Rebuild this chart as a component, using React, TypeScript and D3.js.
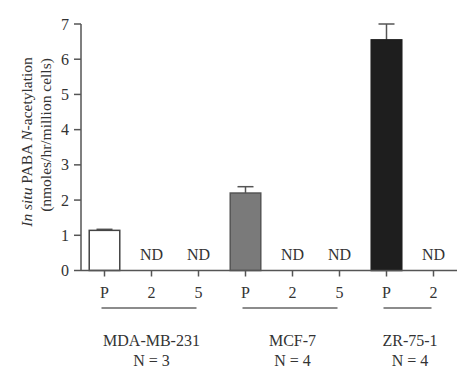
import React from "react";
import * as d3 from "d3";

const categories = ["P1", "21", "51", "P2", "22", "52", "P3", "23"];
const tickLabels = ["P", "2", "5", "P", "2", "5", "P", "2"];
const values: (number | null)[] = [1.14, null, null, 2.2, null, null, 6.55, null];
const errors: (number | null)[] = [0.03, null, null, 0.18, null, null, 0.45, null];
const barColors = ["#ffffff", "", "", "#7a7a7a", "", "", "#1e1e1e", ""];
const barStrokes = ["#444", "", "", "#555", "", "", "#1e1e1e", ""];
const groups = [
  { name: "MDA-MB-231", n: "N = 3", first: "P1", last: "51" },
  { name: "MCF-7", n: "N = 4", first: "P2", last: "52" },
  { name: "ZR-75-1", n: "N = 4", first: "P3", last: "23" },
];
const yTicks = [0, 1, 2, 3, 4, 5, 6, 7];

const W = 474;
const H = 377;
const left = 81;
const right = 457;
const top = 24;
const bottom = 270.5;
const font = "'Liberation Serif', 'Times New Roman', serif";
const axisColor = "#555";
const textColor = "#333";
const fs = 16;

export default function App() {
  const x = d3
    .scaleBand<string>()
    .domain(categories)
    .range([left, right])
    .paddingInner(0.35)
    .paddingOuter(0.175);
  const y = d3.scaleLinear().domain([0, 7]).range([bottom, top]);
  const bw = x.bandwidth();
  const cx = (c: string) => (x(c) as number) + bw / 2;

  return (
    <svg
      width={W}
      height={H}
      style={{ position: "absolute", left: 0, top: 0, background: "#fff" }}
      fontFamily={font}
    >
      <rect width={W} height={H} fill="#fff" />
      {categories.map((c, i) => {
        const v = values[i];
        if (v == null) {
          return (
            <text
              key={c}
              x={cx(c)}
              y={y(0) - 11}
              textAnchor="middle"
              fontSize={fs}
              fill={textColor}
            >
              ND
            </text>
          );
        }
        const e = errors[i] ?? 0;
        return (
          <g key={c}>
            <line x1={cx(c)} x2={cx(c)} y1={y(v)} y2={y(v + e)} stroke="#555" strokeWidth={1.5} />
            <line
              x1={cx(c) - 8}
              x2={cx(c) + 8}
              y1={y(v + e)}
              y2={y(v + e)}
              stroke="#555"
              strokeWidth={1.5}
            />
            <rect
              x={x(c)}
              y={y(v)}
              width={bw}
              height={y(0) - y(v)}
              fill={barColors[i]}
              stroke={barStrokes[i]}
              strokeWidth={1.5}
            />
          </g>
        );
      })}
      <line x1={left} x2={left} y1={y(7)} y2={y(0)} stroke={axisColor} strokeWidth={1.5} />
      {yTicks.map((t) => (
        <g key={t}>
          <line x1={left - 7} x2={left} y1={y(t)} y2={y(t)} stroke={axisColor} strokeWidth={1.5} />
          <text x={left - 12} y={y(t)} dy="0.35em" textAnchor="end" fontSize={fs} fill={textColor}>
            {t}
          </text>
        </g>
      ))}
      <line x1={left} x2={right} y1={y(0)} y2={y(0)} stroke={axisColor} strokeWidth={1.5} />
      {categories.map((c, i) => (
        <g key={c}>
          <line x1={cx(c)} x2={cx(c)} y1={y(0)} y2={y(0) + 6} stroke={axisColor} strokeWidth={1.5} />
          <text x={cx(c)} y={y(0) + 27} textAnchor="middle" fontSize={fs} fill={textColor}>
            {tickLabels[i]}
          </text>
        </g>
      ))}
      {groups.map((g) => {
        const x1 = cx(g.first) - 3;
        const x2 = cx(g.last) - 2;
        const mid = (cx(g.first) + cx(g.last)) / 2;
        return (
          <g key={g.name}>
            <line x1={x1} x2={x2} y1={308} y2={308} stroke="#666" strokeWidth={1.5} />
            <text x={mid} y={346} textAnchor="middle" fontSize={fs} fill={textColor}>
              {g.name}
            </text>
            <text x={mid} y={366} textAnchor="middle" fontSize={fs} fill={textColor}>
              {g.n}
            </text>
          </g>
        );
      })}
      <g transform="translate(27,142) rotate(-90)">
        <text textAnchor="middle" dy="0.35em" fontSize={15.5} fill={textColor}>
          <tspan fontStyle="italic">In situ</tspan>
          <tspan> PABA </tspan>
          <tspan fontStyle="italic">N</tspan>
          <tspan>-acetylation</tspan>
        </text>
      </g>
      <g transform="translate(46,135) rotate(-90)">
        <text textAnchor="middle" dy="0.35em" fontSize={15.5} fill={textColor}>
          (nmoles/hr/million cells)
        </text>
      </g>
    </svg>
  );
}
